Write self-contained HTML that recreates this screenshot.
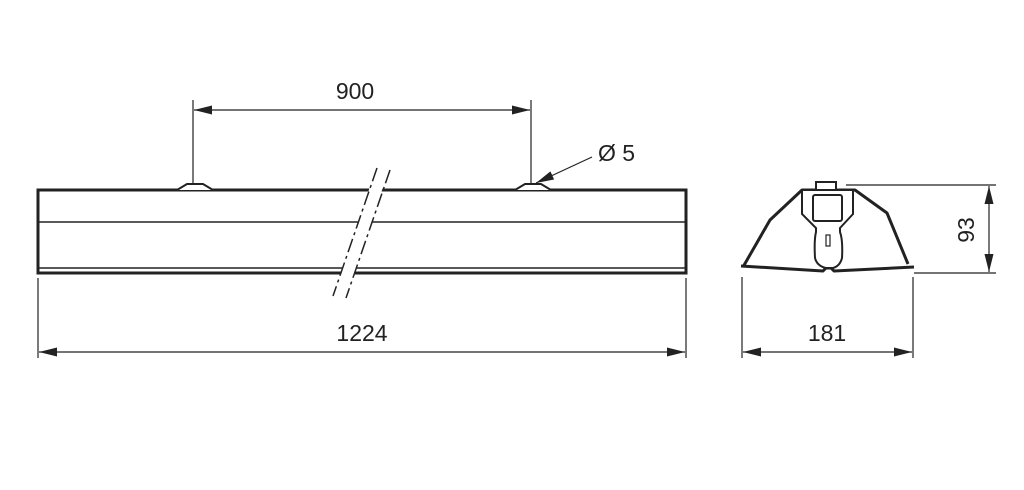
<!DOCTYPE html>
<html><head><meta charset="utf-8"><style>
html,body{margin:0;padding:0;background:#fff;}
svg{display:block;}
text{font-family:"Liberation Sans",sans-serif;font-size:23px;fill:#222;}
</style></head><body>
<svg width="1024" height="490" viewBox="0 0 1024 490" xmlns="http://www.w3.org/2000/svg">
<defs>
<marker id="a" viewBox="0 0 10 10" refX="10" refY="5" markerWidth="18" markerHeight="9" markerUnits="userSpaceOnUse" orient="auto-start-reverse" preserveAspectRatio="none">
<path d="M0,0 L10,5 L0,10 z" fill="#222"/></marker>
</defs>
<g stroke="#222" fill="none">
<rect x="38" y="190" width="648" height="83" stroke-width="3"/>
<line x1="38" y1="222" x2="686" y2="222" stroke-width="1.5"/>
<line x1="38" y1="268" x2="686" y2="268" stroke-width="1.5"/>
<path d="M177,190 L187,184 L203,184 L213,190" stroke-width="2" fill="#fff"/>
<path d="M515,190 L525,184 L541,184 L551,190" stroke-width="2" fill="#fff"/>
<polygon points="375,172 387,175 347,296 334,292" fill="#fff" stroke="none"/>
<line x1="377" y1="168" x2="333" y2="296" stroke-width="1.5" stroke-dasharray="14,4,3,4"/>
<line x1="390" y1="170" x2="346" y2="298" stroke-width="1.5" stroke-dasharray="14,4,3,4"/>
<line x1="193" y1="100" x2="193" y2="184" stroke-width="1.2"/>
<line x1="531" y1="100" x2="531" y2="184" stroke-width="1.2"/>
<line x1="194" y1="110" x2="530" y2="110" stroke-width="1.2" marker-start="url(#a)" marker-end="url(#a)"/>
<line x1="592" y1="157" x2="536" y2="183" stroke-width="1.2" marker-end="url(#a)"/>
<line x1="38" y1="278" x2="38" y2="358" stroke-width="1.2"/>
<line x1="686" y1="278" x2="686" y2="358" stroke-width="1.2"/>
<line x1="39" y1="352" x2="685" y2="352" stroke-width="1.2" marker-start="url(#a)" marker-end="url(#a)"/>
<path d="M743,267 L770,220 L802,190 L855,190 L887,213 L908,264" stroke-width="3" stroke-linejoin="round"/>
<path d="M741,266 L823,271 L826,268 L831,268 L834,271 L914,267" stroke-width="3" stroke-linejoin="round"/>
<path d="M816,190 L816,182 L836,182 L836,190" stroke-width="2" fill="#fff"/>
<path d="M802,190 L853,190 L853,214 L840,228 L840,232 Q843,240 842,258 Q840,266 833,268 L826,268 Q817,266 815,258 Q814,240 816,232 L816,228 L802,214 Z" stroke-width="2" fill="#fff"/>
<rect x="813" y="195" width="29" height="26" rx="2" stroke-width="2"/>
<rect x="826" y="235" width="4" height="11" stroke-width="1.2"/>
<line x1="846" y1="185" x2="996" y2="185" stroke-width="1.2"/>
<line x1="914" y1="273" x2="996" y2="273" stroke-width="1.2"/>
<line x1="989" y1="186" x2="989" y2="272" stroke-width="1.2" marker-start="url(#a)" marker-end="url(#a)"/>
<line x1="742" y1="277" x2="742" y2="358" stroke-width="1.2"/>
<line x1="913" y1="277" x2="913" y2="358" stroke-width="1.2"/>
<line x1="743" y1="352" x2="912" y2="352" stroke-width="1.2" marker-start="url(#a)" marker-end="url(#a)"/>
</g>
<text x="355" y="99" text-anchor="middle">900</text>
<text x="598" y="161">Ø 5</text>
<text x="362" y="341" text-anchor="middle">1224</text>
<text x="827" y="341" text-anchor="middle">181</text>
<text transform="translate(974,230) rotate(-90)" text-anchor="middle">93</text>
</svg>
</body></html>
